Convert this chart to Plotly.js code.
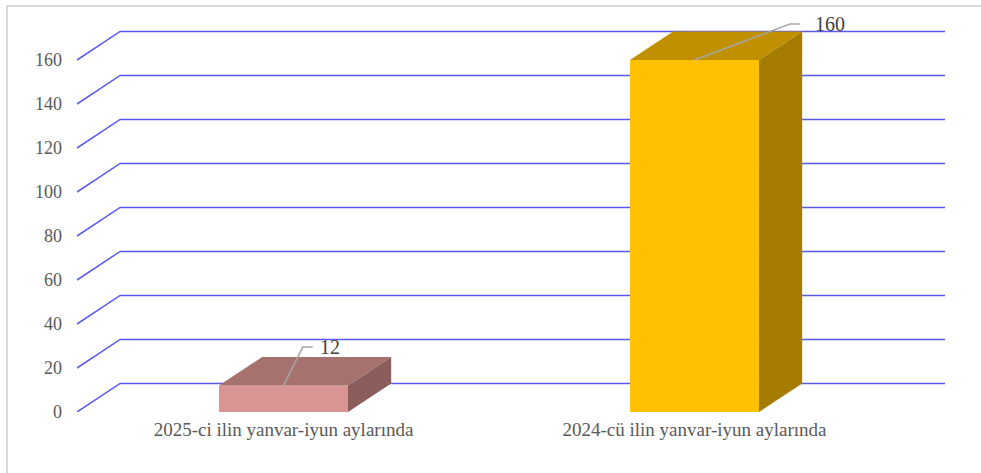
<!DOCTYPE html>
<html>
<head>
<meta charset="utf-8">
<script src="https://cdn.plot.ly/plotly-3.0.1.min.js"></script>
<style>
  html, body { margin: 0; padding: 0; background: #ffffff; overflow: hidden; }
  #chart { width: 981px; height: 473px; }
  #frame { position: absolute; left: 6px; top: 5px; width: 975px; height: 468px;
           border-left: 2px solid #d9d9d9; border-top: 2px solid #d9d9d9; pointer-events: none; }
</style>
</head>
<body>
<div id="chart"></div>
<div id="frame"></div>
<script>
// ---- data ----
var categories = ["2025-ci ilin yanvar-iyun aylarında", "2024-cü ilin yanvar-iyun aylarında"];
var values = [12, 160];
var tickValues = [0, 20, 40, 60, 80, 100, 120, 140, 160];
var tickLabels = ["0", "20", "40", "60", "80", "100", "120", "140", "160"];

// ---- styles ----
var frontColors = ["#D99594", "#FFC000"];
var topColors = ["#A5726E", "#C09000"];
var sideColors = ["#8C5E5B", "#A67C00"];
var gridColor = "#5A5AF2";
var barWidth = 0.314;     // category units
var depthX = 0.105;       // category units
var depthY = 13.0;        // value units
var xRange = [-0.5024, 1.646];
var yRange = [0, 182.73];
var gridEndX = 1.6095;
var labelOffsets = [[0.047, 17.5], [0.232, 16.4]]; // leader elbow offsets
var textOffsetsX = [0.087, 0.290];                 // label text left edge offsets
var serif = "Liberation Serif, Times New Roman, serif";

var xs = categories.map(function (c, i) { return i; });
var traces = [];

// top and side faces
xs.forEach(function (x, i) {
  var v = values[i];
  var l = x - barWidth / 2, r = x + barWidth / 2;
  traces.push({
    type: "scatter", mode: "lines", fill: "toself",
    x: [l, l + depthX, r + depthX, r, l],
    y: [v, v + depthY, v + depthY, v, v],
    fillcolor: topColors[i], line: { width: 0, color: topColors[i] },
    hoverinfo: "skip", showlegend: false
  });
  traces.push({
    type: "scatter", mode: "lines", fill: "toself",
    x: [r, r, r + depthX, r + depthX, r],
    y: [0, v, v + depthY, depthY, 0],
    fillcolor: sideColors[i], line: { width: 0, color: sideColors[i] },
    hoverinfo: "skip", showlegend: false
  });
});

// front faces
traces.push({
  type: "bar", x: xs, y: values, width: barWidth,
  marker: { color: frontColors, line: { width: 0 } },
  hoverinfo: "x+y", showlegend: false
});

// leader lines and value labels
var annotations = [];
xs.forEach(function (x, i) {
  var v = values[i];
  var ex = x + labelOffsets[i][0], ey = v + labelOffsets[i][1];
  traces.push({
    type: "scatter", mode: "lines",
    x: [x, ex, ex + 0.024],
    y: [v, ey, ey],
    line: { color: "#A6A6A6", width: 1.5 },
    hoverinfo: "skip", showlegend: false
  });
  annotations.push({
    x: x + textOffsetsX[i], y: ey, xref: "x", yref: "y",
    text: String(v), showarrow: false, xanchor: "left", yanchor: "middle",
    borderpad: 0,
    font: { family: serif, size: 20, color: "#404040" }
  });
});

// 3D gridlines (floor diagonal + back wall)
var shapes = tickValues.map(function (t) {
  var x0 = xRange[0];
  return {
    type: "path", layer: "below", xref: "x", yref: "y",
    path: "M " + x0 + "," + t + " L " + (x0 + depthX) + "," + (t + depthY) + " L " + gridEndX + "," + (t + depthY),
    line: { color: gridColor, width: 1.5 }
  };
});

var layout = {
  width: 981, height: 473,
  margin: { l: 77, r: 21, t: 10, b: 61, pad: 0 },
  paper_bgcolor: "#ffffff", plot_bgcolor: "rgba(0,0,0,0)",
  showlegend: false,
  xaxis: {
    type: "linear", range: xRange, tickmode: "array", tickvals: xs, ticktext: categories,
    showgrid: false, zeroline: false, showline: false, ticks: "",
    ticklabelstandoff: 4,
    tickfont: { family: serif, size: 19, color: "#595959" }, fixedrange: true
  },
  yaxis: {
    range: yRange, tickmode: "array", tickvals: tickValues, ticktext: tickLabels,
    showgrid: false, zeroline: false, showline: false, ticks: "",
    ticklabelstandoff: 14,
    tickfont: { family: serif, size: 18, color: "#595959" }, fixedrange: true
  },
  shapes: shapes,
  annotations: annotations
};

Plotly.newPlot("chart", traces, layout, { displayModeBar: false, staticPlot: true });
</script>
</body>
</html>
